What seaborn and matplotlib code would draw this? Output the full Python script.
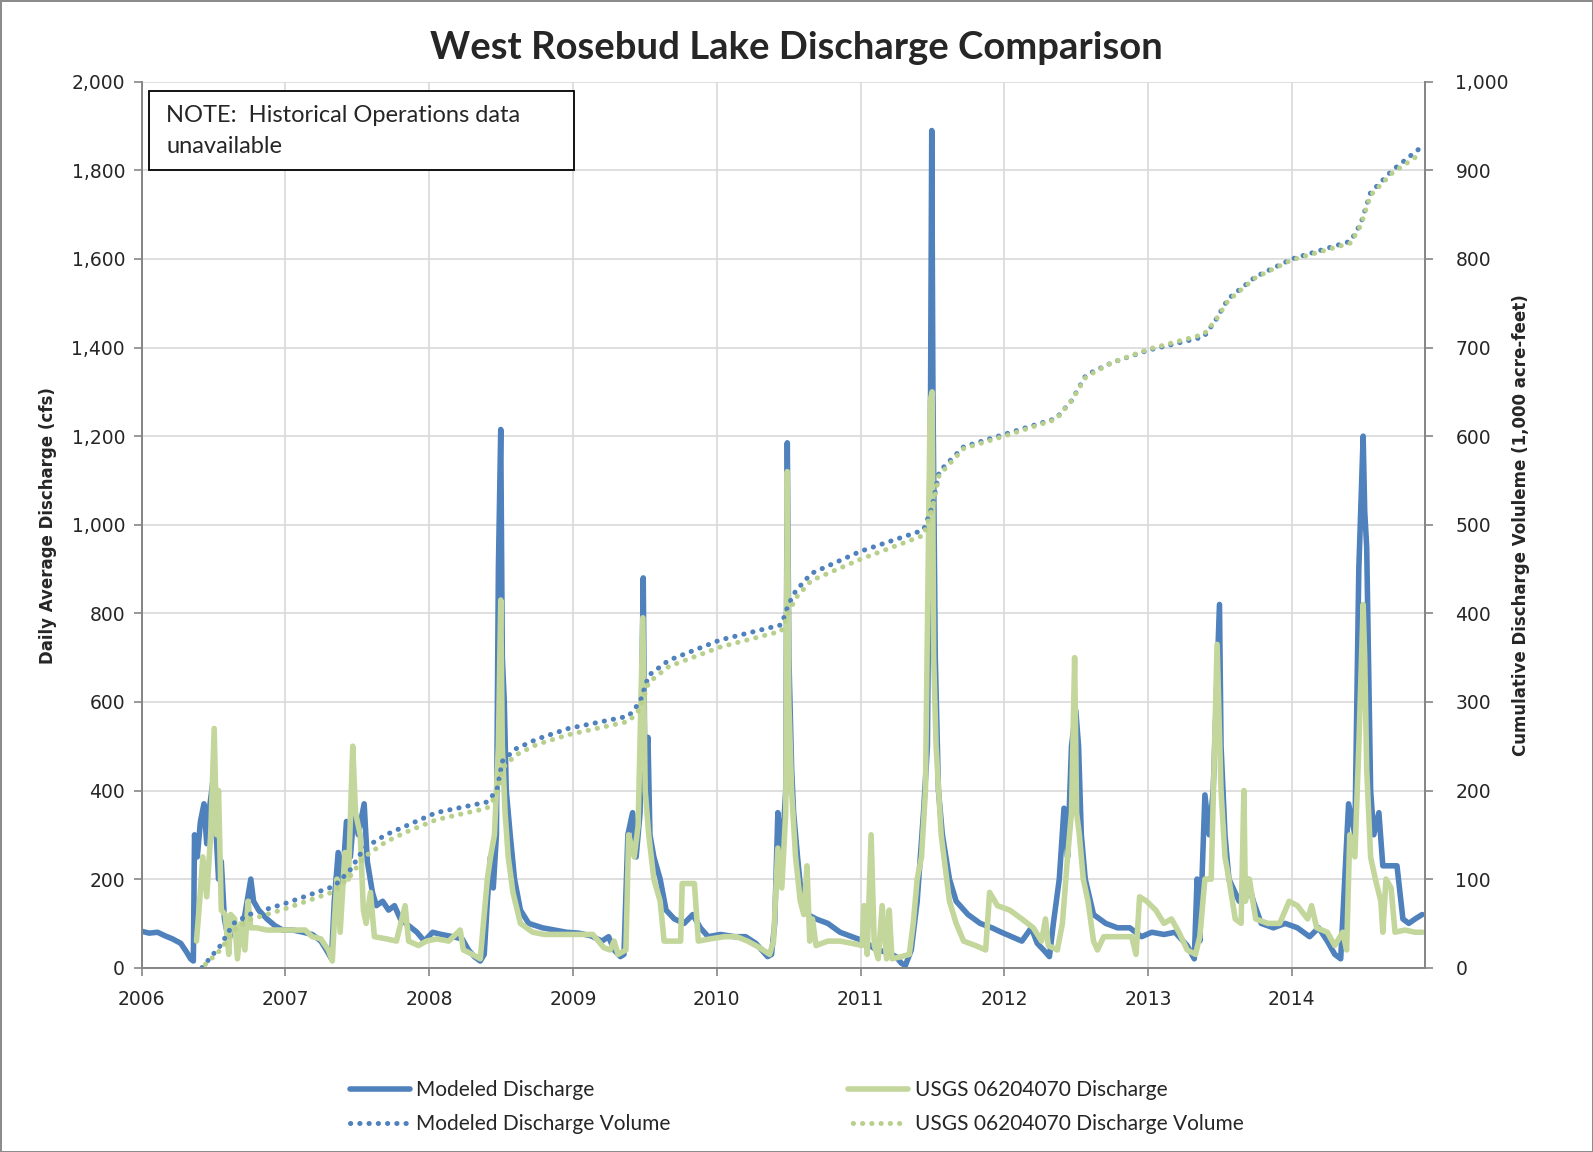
import numpy as np
import pandas as pd
import matplotlib
matplotlib.use("Agg")
import matplotlib.pyplot as plt
import matplotlib.dates as mdates
from matplotlib.patches import Rectangle
from matplotlib.ticker import FuncFormatter, MultipleLocator
import seaborn as sns

# --- data ---
model_dates = [
    "2006-01-01", "2006-01-20", "2006-02-10", "2006-03-01", "2006-03-20", "2006-04-10", "2006-04-25",
    "2006-05-05", "2006-05-12", "2006-05-15", "2006-05-22", "2006-05-30", "2006-06-08", "2006-06-15",
    "2006-06-22", "2006-07-02", "2006-07-08", "2006-07-15", "2006-07-22", "2006-07-30", "2006-08-10",
    "2006-08-20", "2006-09-05", "2006-09-20", "2006-10-05", "2006-10-12", "2006-10-25", "2006-11-15",
    "2006-12-05", "2006-12-25",
    "2007-01-20", "2007-02-15", "2007-03-10", "2007-04-01", "2007-04-15", "2007-04-28", "2007-05-05",
    "2007-05-15", "2007-05-25", "2007-06-05", "2007-06-15", "2007-06-25", "2007-07-05", "2007-07-20",
    "2007-07-28", "2007-08-10", "2007-08-20", "2007-09-05", "2007-09-20", "2007-10-05", "2007-10-20",
    "2007-11-10", "2007-12-01", "2007-12-20",
    "2008-01-10", "2008-02-01", "2008-03-01", "2008-03-25", "2008-04-10", "2008-04-25", "2008-05-10",
    "2008-05-20", "2008-05-28", "2008-06-05", "2008-06-12", "2008-06-20", "2008-06-25", "2008-07-01",
    "2008-07-05", "2008-07-10", "2008-07-15", "2008-07-25", "2008-08-05", "2008-08-20", "2008-09-10",
    "2008-10-15", "2008-11-15", "2008-12-15",
    "2009-01-15", "2009-02-15", "2009-03-15", "2009-04-01", "2009-04-15", "2009-05-01", "2009-05-10",
    "2009-05-20", "2009-06-01", "2009-06-10", "2009-06-20", "2009-06-28", "2009-07-02", "2009-07-10",
    "2009-07-15", "2009-07-25", "2009-08-10", "2009-08-25", "2009-09-15", "2009-10-10", "2009-11-01",
    "2009-11-20", "2009-12-10",
    "2010-01-10", "2010-02-15", "2010-03-15", "2010-04-10", "2010-04-25", "2010-05-10", "2010-05-20",
    "2010-05-28", "2010-06-05", "2010-06-15", "2010-06-25", "2010-06-29", "2010-07-03", "2010-07-10",
    "2010-07-15", "2010-07-25", "2010-08-05", "2010-08-20", "2010-09-10", "2010-10-10", "2010-11-10",
    "2010-12-10",
    "2011-01-10", "2011-02-10", "2011-03-10", "2011-04-01", "2011-04-15", "2011-04-25", "2011-05-10",
    "2011-05-25", "2011-06-10", "2011-06-20", "2011-06-28", "2011-07-01", "2011-07-04", "2011-07-10",
    "2011-07-18", "2011-07-28", "2011-08-15", "2011-09-01", "2011-10-01", "2011-11-01", "2011-12-01",
    "2011-12-25",
    "2012-01-20", "2012-02-15", "2012-03-10", "2012-03-25", "2012-04-10", "2012-04-25", "2012-05-05",
    "2012-05-20", "2012-06-01", "2012-06-10", "2012-06-20", "2012-07-01", "2012-07-08", "2012-07-15",
    "2012-07-25", "2012-08-15", "2012-09-15", "2012-10-15", "2012-11-15", "2012-12-15",
    "2013-01-10", "2013-02-10", "2013-03-10", "2013-04-10", "2013-04-28", "2013-05-05", "2013-05-12",
    "2013-05-25", "2013-06-05", "2013-06-15", "2013-07-01", "2013-07-05", "2013-07-15", "2013-07-25",
    "2013-08-20", "2013-09-10", "2013-09-25", "2013-10-15", "2013-11-15", "2013-12-15",
    "2014-01-15", "2014-02-15", "2014-03-10", "2014-04-01", "2014-04-20", "2014-05-05", "2014-05-25",
    "2014-06-10", "2014-06-20", "2014-07-01", "2014-07-05", "2014-07-10", "2014-07-20", "2014-07-28",
    "2014-08-10", "2014-08-20", "2014-09-05", "2014-09-25", "2014-10-10", "2014-10-25", "2014-11-10",
    "2014-11-28",
]
model_cfs = [
    82, 78, 80, 72, 65, 55, 35, 20, 15, 300, 250, 330, 370, 280, 360, 430, 320, 200, 240, 110, 60,
    95, 60, 120, 200, 150, 130, 110, 95, 85,
    85, 80, 75, 60, 40, 20, 150, 260, 180, 330, 250, 360, 300, 370, 240, 170, 140, 150, 130, 140, 110,
    95, 80, 60,
    80, 75, 70, 65, 40, 25, 15, 30, 150, 250, 180, 300, 900, 1215, 700, 600, 400, 300, 200, 130, 100,
    90, 85, 80,
    78, 72, 60, 70, 40, 25, 30, 300, 350, 250, 350, 880, 450, 520, 300, 250, 200, 130, 110, 100, 120,
    90, 70,
    75, 70, 70, 55, 40, 25, 30, 100, 350, 250, 400, 1185, 700, 450, 350, 250, 150, 120, 110, 100, 80,
    70,
    60, 40, 35, 25, 10, 5, 40, 150, 350, 500, 1300, 1890, 1300, 700, 400, 300, 200, 150, 120, 100, 90,
    80,
    70, 60, 90, 55, 40, 25, 100, 200, 360, 250, 500, 580, 500, 300, 200, 120, 100, 90, 90, 70,
    80, 75, 80, 50, 20, 200, 60, 390, 300, 400, 820, 500, 300, 200, 150, 200, 150, 100, 90, 100,
    90, 70, 90, 60, 30, 20, 370, 300, 900, 1200, 1030, 950, 400, 300, 350, 230, 230, 230, 110, 100, 110,
    120,
]

usgs_dates = [
    "2006-05-20", "2006-05-28", "2006-06-05", "2006-06-15", "2006-06-25", "2006-07-04", "2006-07-10",
    "2006-07-15", "2006-07-22", "2006-08-01", "2006-08-10", "2006-08-15", "2006-08-25", "2006-09-01",
    "2006-09-10", "2006-09-20", "2006-09-28", "2006-10-05", "2006-10-20", "2006-11-15", "2006-12-15",
    "2007-01-20", "2007-02-20", "2007-03-10", "2007-04-01", "2007-04-20", "2007-04-30", "2007-05-05",
    "2007-05-12", "2007-05-20", "2007-06-01", "2007-06-10", "2007-06-21", "2007-06-28", "2007-07-10",
    "2007-07-18", "2007-07-25", "2007-08-05", "2007-08-15", "2007-09-15", "2007-10-10", "2007-11-01",
    "2007-11-10", "2007-12-05", "2007-12-25",
    "2008-01-20", "2008-02-20", "2008-03-20", "2008-03-28", "2008-04-20", "2008-05-10", "2008-05-20",
    "2008-05-28", "2008-06-05", "2008-06-15", "2008-06-25", "2008-07-01", "2008-07-05", "2008-07-12",
    "2008-07-20", "2008-08-01", "2008-08-20", "2008-09-20", "2008-10-20", "2008-11-20", "2008-12-20",
    "2009-01-20", "2009-02-20", "2009-03-20", "2009-04-05", "2009-04-15", "2009-04-25", "2009-05-15",
    "2009-05-22", "2009-06-05", "2009-06-15", "2009-06-27", "2009-07-03", "2009-07-12", "2009-07-25",
    "2009-08-10", "2009-08-20", "2009-10-01", "2009-10-05", "2009-11-05", "2009-11-15", "2009-12-15",
    "2010-01-20", "2010-02-20", "2010-03-20", "2010-04-20", "2010-05-15", "2010-05-25", "2010-06-05",
    "2010-06-15", "2010-06-25", "2010-06-29", "2010-07-03", "2010-07-10", "2010-07-20", "2010-08-01",
    "2010-08-10", "2010-08-18", "2010-08-25", "2010-09-01", "2010-09-10", "2010-10-10", "2010-11-10",
    "2010-12-10",
    "2011-01-05", "2011-01-10", "2011-01-18", "2011-01-28", "2011-02-05", "2011-02-15", "2011-02-25",
    "2011-03-08", "2011-03-15", "2011-03-22", "2011-04-15", "2011-05-05", "2011-05-15", "2011-05-25",
    "2011-06-05", "2011-06-15", "2011-06-27", "2011-07-02", "2011-07-06", "2011-07-12", "2011-07-25",
    "2011-08-15", "2011-09-01", "2011-09-20", "2011-10-20", "2011-11-15", "2011-11-25", "2011-12-15",
    "2012-01-15", "2012-02-15", "2012-03-15", "2012-04-05", "2012-04-15", "2012-04-22", "2012-05-15",
    "2012-05-28", "2012-06-10", "2012-06-20", "2012-06-28", "2012-07-03", "2012-07-10", "2012-07-20",
    "2012-08-01", "2012-08-15", "2012-08-25", "2012-09-10", "2012-10-15", "2012-11-20", "2012-12-01",
    "2012-12-10", "2012-12-28",
    "2013-01-20", "2013-02-10", "2013-03-01", "2013-03-20", "2013-04-10", "2013-05-01", "2013-05-12",
    "2013-05-25", "2013-06-10", "2013-06-25", "2013-07-05", "2013-07-15", "2013-07-25", "2013-08-10",
    "2013-08-25", "2013-09-01", "2013-09-05", "2013-09-15", "2013-10-01", "2013-11-01", "2013-12-01",
    "2013-12-25",
    "2014-01-15", "2014-02-10", "2014-02-20", "2014-03-05", "2014-04-01", "2014-04-20", "2014-05-10",
    "2014-05-20", "2014-05-28", "2014-06-10", "2014-06-20", "2014-07-01", "2014-07-05", "2014-07-10",
    "2014-07-20", "2014-08-01", "2014-08-15", "2014-08-20", "2014-08-28", "2014-09-10", "2014-09-20",
    "2014-10-15", "2014-11-10", "2014-11-28",
]
usgs_cfs = [
    60, 150, 250, 160, 300, 540, 300, 400, 130, 120, 30, 120, 110, 20, 100, 40, 150, 90, 90, 85, 85,
    85, 85, 70, 65, 40, 15, 100, 200, 80, 260, 200, 500, 350, 300, 130, 100, 170, 70, 65, 60, 140,
    60, 50, 60,
    65, 60, 85, 40, 30, 20, 120, 200, 250, 300, 500, 830, 500, 350, 250, 170, 100, 80, 75, 75, 75,
    75, 75, 45, 40, 60, 30, 40, 300, 250, 320, 790, 400, 300, 200, 150, 60, 60, 190, 190, 60, 65,
    70, 70, 60, 45, 30, 60, 270, 180, 350, 1120, 600, 400, 250, 150, 120, 230, 60, 110, 50, 60, 60,
    55,
    50, 140, 30, 300, 50, 20, 140, 20, 130, 20, 25, 30, 100, 200, 250, 400, 1280, 1300, 700, 500, 300,
    150, 100, 60, 50, 40, 170, 140,
    130, 110, 90, 60, 110, 50, 40, 100, 250, 350, 700, 350, 300, 200, 150, 60, 40, 70, 70, 70, 30,
    160, 150,
    130, 100, 110, 80, 40, 30, 70, 200, 200, 730, 400, 250, 200, 110, 100, 400, 150, 200, 110, 100, 100,
    150,
    140, 110, 140, 90, 80, 50, 80, 40, 300, 250, 500, 820, 700, 450, 250, 200, 150, 80, 200, 180, 80,
    85, 80, 80,
]

vol_dates = [
    "2006-06-03", "2006-07-20", "2006-08-22", "2006-10-01", "2006-12-28", "2007-05-05", "2007-06-14",
    "2007-07-20", "2007-09-13", "2007-11-03", "2008-01-19", "2008-05-27", "2008-06-21", "2008-07-05",
    "2008-08-08", "2008-10-01", "2008-12-20", "2009-05-22", "2009-06-20", "2009-07-12", "2009-09-01",
    "2010-01-10", "2010-06-14", "2010-07-02", "2010-07-20", "2010-08-29", "2011-01-01", "2011-06-10",
    "2011-07-02", "2011-07-20", "2011-09-20", "2012-01-01", "2012-05-12", "2012-06-20", "2012-07-27",
    "2012-10-01", "2013-01-01", "2013-05-22", "2013-06-20", "2013-07-23", "2013-10-01", "2014-01-01",
    "2014-05-30", "2014-06-25", "2014-07-20", "2014-09-13", "2014-11-28",
]
model_vol = [
    0, 25, 50, 60, 72, 92, 110, 135, 150, 160, 175, 187, 200, 233, 247, 258, 270, 284, 300, 330, 347,
    370, 387, 410, 425, 445, 470, 494, 520, 560, 588, 602, 620, 640, 669, 683, 697, 712, 730, 755, 780,
    800, 820, 840, 875, 900, 927,
]
usgs_vol = [
    0, 20, 42, 54, 66, 86, 103, 125, 142, 153, 167, 180, 195, 225, 240, 252, 263, 278, 292, 322, 340,
    362, 380, 400, 417, 437, 461, 488, 518, 556, 586, 600, 619, 640, 667, 683, 698, 715, 730, 753, 779,
    799, 818, 838, 872, 897, 920,
]

BLUE = "#4F81BD"
GREEN = "#C3D69B"
GREEN_DOT = "#B9D08C"
LABEL_FONT = ["Lato", "DejaVu Sans"]
AXIS_FONT = ["DejaVu Sans Condensed", "DejaVu Sans"]

sns.set_style("white")
plt.rcParams["font.family"] = ["DejaVu Sans"]

fig = plt.figure(figsize=(15.93, 11.52), dpi=100)
fig.patch.set_edgecolor("#8c8c8c")
fig.patch.set_linewidth(2)
ax = fig.add_axes([0.089, 0.160, 0.8055, 0.769])
ax2 = ax.twinx()

md = pd.to_datetime(model_dates)
ud = pd.to_datetime(usgs_dates)
vd = pd.to_datetime(vol_dates)

sns.lineplot(x=md, y=model_cfs, ax=ax, color=BLUE, linewidth=4, label="Modeled Discharge",
             legend=False)
sns.lineplot(x=ud, y=usgs_cfs, ax=ax, color=GREEN, linewidth=4, label="USGS 06204070 Discharge",
             legend=False)
sns.lineplot(x=vd, y=model_vol, ax=ax2, color=BLUE, linewidth=3.6, linestyle=(0, (0.05, 1.8)),
             dash_capstyle="round", label="Modeled Discharge Volume", legend=False)
sns.lineplot(x=vd, y=usgs_vol, ax=ax2, color=GREEN_DOT, linewidth=3.6, linestyle=(0.9, (0.05, 1.8)),
             dash_capstyle="round", label="USGS 06204070 Discharge Volume", legend=False)

# axes limits and ticks
xmin, xmax = pd.Timestamp("2006-01-01"), pd.Timestamp("2014-12-05")
ax.set_xlim(xmin, xmax)
ax.set_ylim(0, 2000)
ax2.set_ylim(0, 1000)
ax.yaxis.set_major_locator(MultipleLocator(200))
ax2.yaxis.set_major_locator(MultipleLocator(100))
ax.xaxis.set_major_locator(mdates.YearLocator())
ax.xaxis.set_major_formatter(mdates.DateFormatter("%Y"))
comma = FuncFormatter(lambda v, p: f"{int(v):,}")
ax.yaxis.set_major_formatter(comma)
ax2.yaxis.set_major_formatter(comma)

ax.grid(True, color="#d9d9d9", linewidth=1.2)
ax.set_axisbelow(True)
for a in (ax, ax2):
    a.spines["top"].set_visible(False)
    for s in ("left", "right", "bottom"):
        a.spines[s].set_color("#868686")
        a.spines[s].set_linewidth(1.3)
ax.tick_params(axis="both", direction="out", length=6, width=1.2, color="#868686",
               labelsize=13.5, pad=6, left=True, bottom=True)
ax2.tick_params(axis="y", direction="out", length=6, width=1.2, color="#868686",
                labelsize=13.5, pad=16, right=True)
ax.tick_params(axis="x", pad=10)
ax.set_xlabel("")
ax.set_ylabel("")
ax2.set_ylabel("")

# titles and labels
fig.text(0.5, 0.958, "West Rosebud Lake Discharge Comparison", ha="center", va="center",
         fontsize=27.5, fontweight="bold", family=LABEL_FONT)
fig.text(0.030, 0.544, "Daily Average Discharge (cfs)", rotation=90, ha="center", va="center",
         fontsize=12, fontweight="bold", family=AXIS_FONT)
fig.text(0.955, 0.544, "Cumulative Discharge Voluleme (1,000 acre-feet)", rotation=90,
         ha="center", va="center", fontsize=12, fontweight="bold", family=AXIS_FONT)

# note box
ax2.add_patch(Rectangle((0.0055, 0.90), 0.3315, 0.09, transform=ax2.transAxes, fill=True,
                        facecolor="white", edgecolor="black", linewidth=1.3, zorder=5))
ax2.text(0.019, 0.962, "NOTE:  Historical Operations data", transform=ax2.transAxes,
         fontsize=17, va="center", ha="left", family=LABEL_FONT, zorder=6)
ax2.text(0.019, 0.927, "unavailable", transform=ax2.transAxes,
         fontsize=17, va="center", ha="left", family=LABEL_FONT, zorder=6)

# legend below plot
h1, l1 = ax.get_legend_handles_labels()
h2, l2 = ax2.get_legend_handles_labels()
handles = [h1[0], h2[0], h1[1], h2[1]]
labels = [l1[0], l2[0], l1[1], l2[1]]
fig.legend(handles, labels, loc="center", bbox_to_anchor=(0.5, 0.039), ncol=2, frameon=False,
           handlelength=2.9, handletextpad=0.3, columnspacing=8.5, labelspacing=0.65,
           prop={"family": LABEL_FONT, "size": 15})

fig.savefig("out.png", dpi=100)
